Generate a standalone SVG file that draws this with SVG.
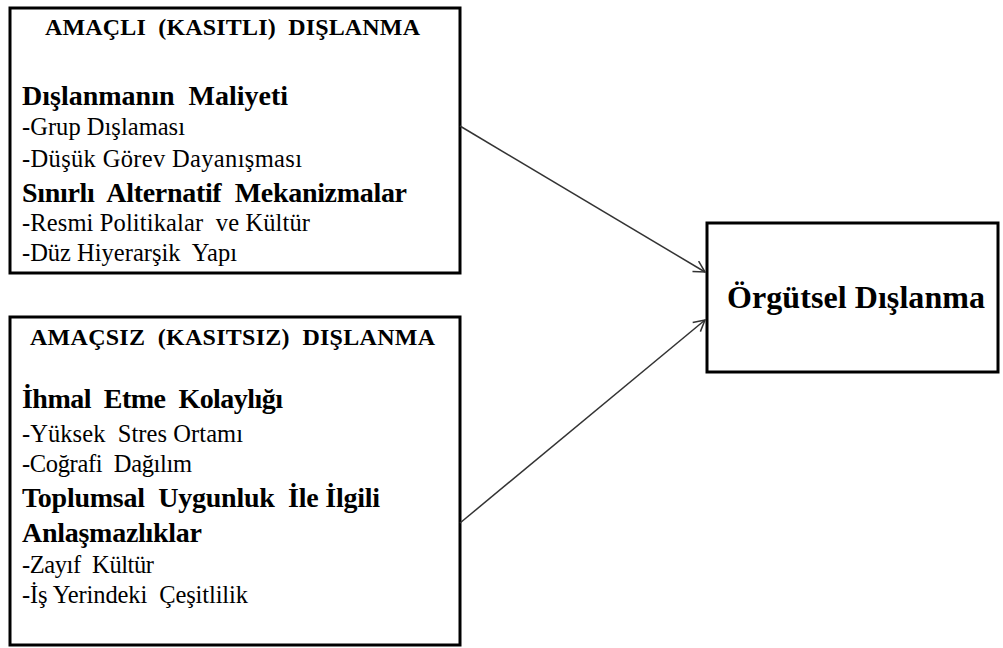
<svg xmlns="http://www.w3.org/2000/svg" width="1003" height="648" viewBox="0 0 1003 648">
<style>
.box{fill:#fff;stroke:#000;stroke-width:3}
text{font-family:"Liberation Serif","Times New Roman",serif;fill:#000}
.t{font-size:24px;font-weight:bold}
.h{font-size:28px;font-weight:bold}
.b{font-size:24.5px}
.big{font-size:32px;font-weight:bold}
.conn{stroke:#333;stroke-width:1.5;fill:none}
</style>
<defs>
<marker id="arr" markerWidth="14" markerHeight="14" refX="12" refY="7" orient="auto" markerUnits="userSpaceOnUse">
<path d="M1,1 L12,7 L1,13" fill="none" stroke="#333" stroke-width="1.5"/>
</marker>
</defs>
<rect width="1003" height="648" fill="#fff"/>
<g id="node-amacli">
<rect class="box" x="10" y="8" width="450" height="265"/>
<text class="t" x="45" y="35" xml:space="preserve" textLength="375">AMAÇLI  (KASITLI)  DIŞLANMA</text>
<text class="h" x="22" y="105" xml:space="preserve" textLength="266">Dışlanmanın  Maliyeti</text>
<text class="b" x="22" y="135" textLength="163">-Grup Dışlaması</text>
<text class="b" x="22" y="167" textLength="280">-Düşük Görev Dayanışması</text>
<text class="h" x="22" y="202" xml:space="preserve" textLength="385">Sınırlı  Alternatif  Mekanizmalar</text>
<text class="b" x="22" y="231" xml:space="preserve" textLength="288">-Resmi Politikalar  ve Kültür</text>
<text class="b" x="22" y="261" xml:space="preserve" textLength="215">-Düz Hiyerarşik  Yapı</text>
</g>
<g id="node-amacsiz">
<rect class="box" x="10" y="317" width="450" height="328"/>
<text class="t" x="30" y="345" xml:space="preserve" textLength="405">AMAÇSIZ  (KASITSIZ)  DIŞLANMA</text>
<text class="h" x="22" y="408" xml:space="preserve" textLength="261">İhmal  Etme  Kolaylığı</text>
<text class="b" x="22" y="441.5" xml:space="preserve" textLength="221">-Yüksek  Stres Ortamı</text>
<text class="b" x="22" y="471.5" xml:space="preserve" textLength="170">-Coğrafi  Dağılım</text>
<text class="h" x="22" y="507" xml:space="preserve" textLength="358">Toplumsal  Uygunluk  İle İlgili</text>
<text class="h" x="22" y="541.5" textLength="180">Anlaşmazlıklar</text>
<text class="b" x="22" y="573" xml:space="preserve" textLength="132">-Zayıf  Kültür</text>
<text class="b" x="22" y="602.5" xml:space="preserve" textLength="226">-İş Yerindeki  Çeşitlilik</text>
</g>
<g id="node-orgutsel">
<rect class="box" x="707" y="223" width="291" height="149"/>
<text class="big" x="727" y="308" textLength="258">Örgütsel Dışlanma</text>
</g>
<g id="connectors">
<line class="conn" x1="460" y1="126" x2="705" y2="272" marker-end="url(#arr)"/>
<line class="conn" x1="460" y1="523" x2="705" y2="320" marker-end="url(#arr)"/>
</g>
</svg>
